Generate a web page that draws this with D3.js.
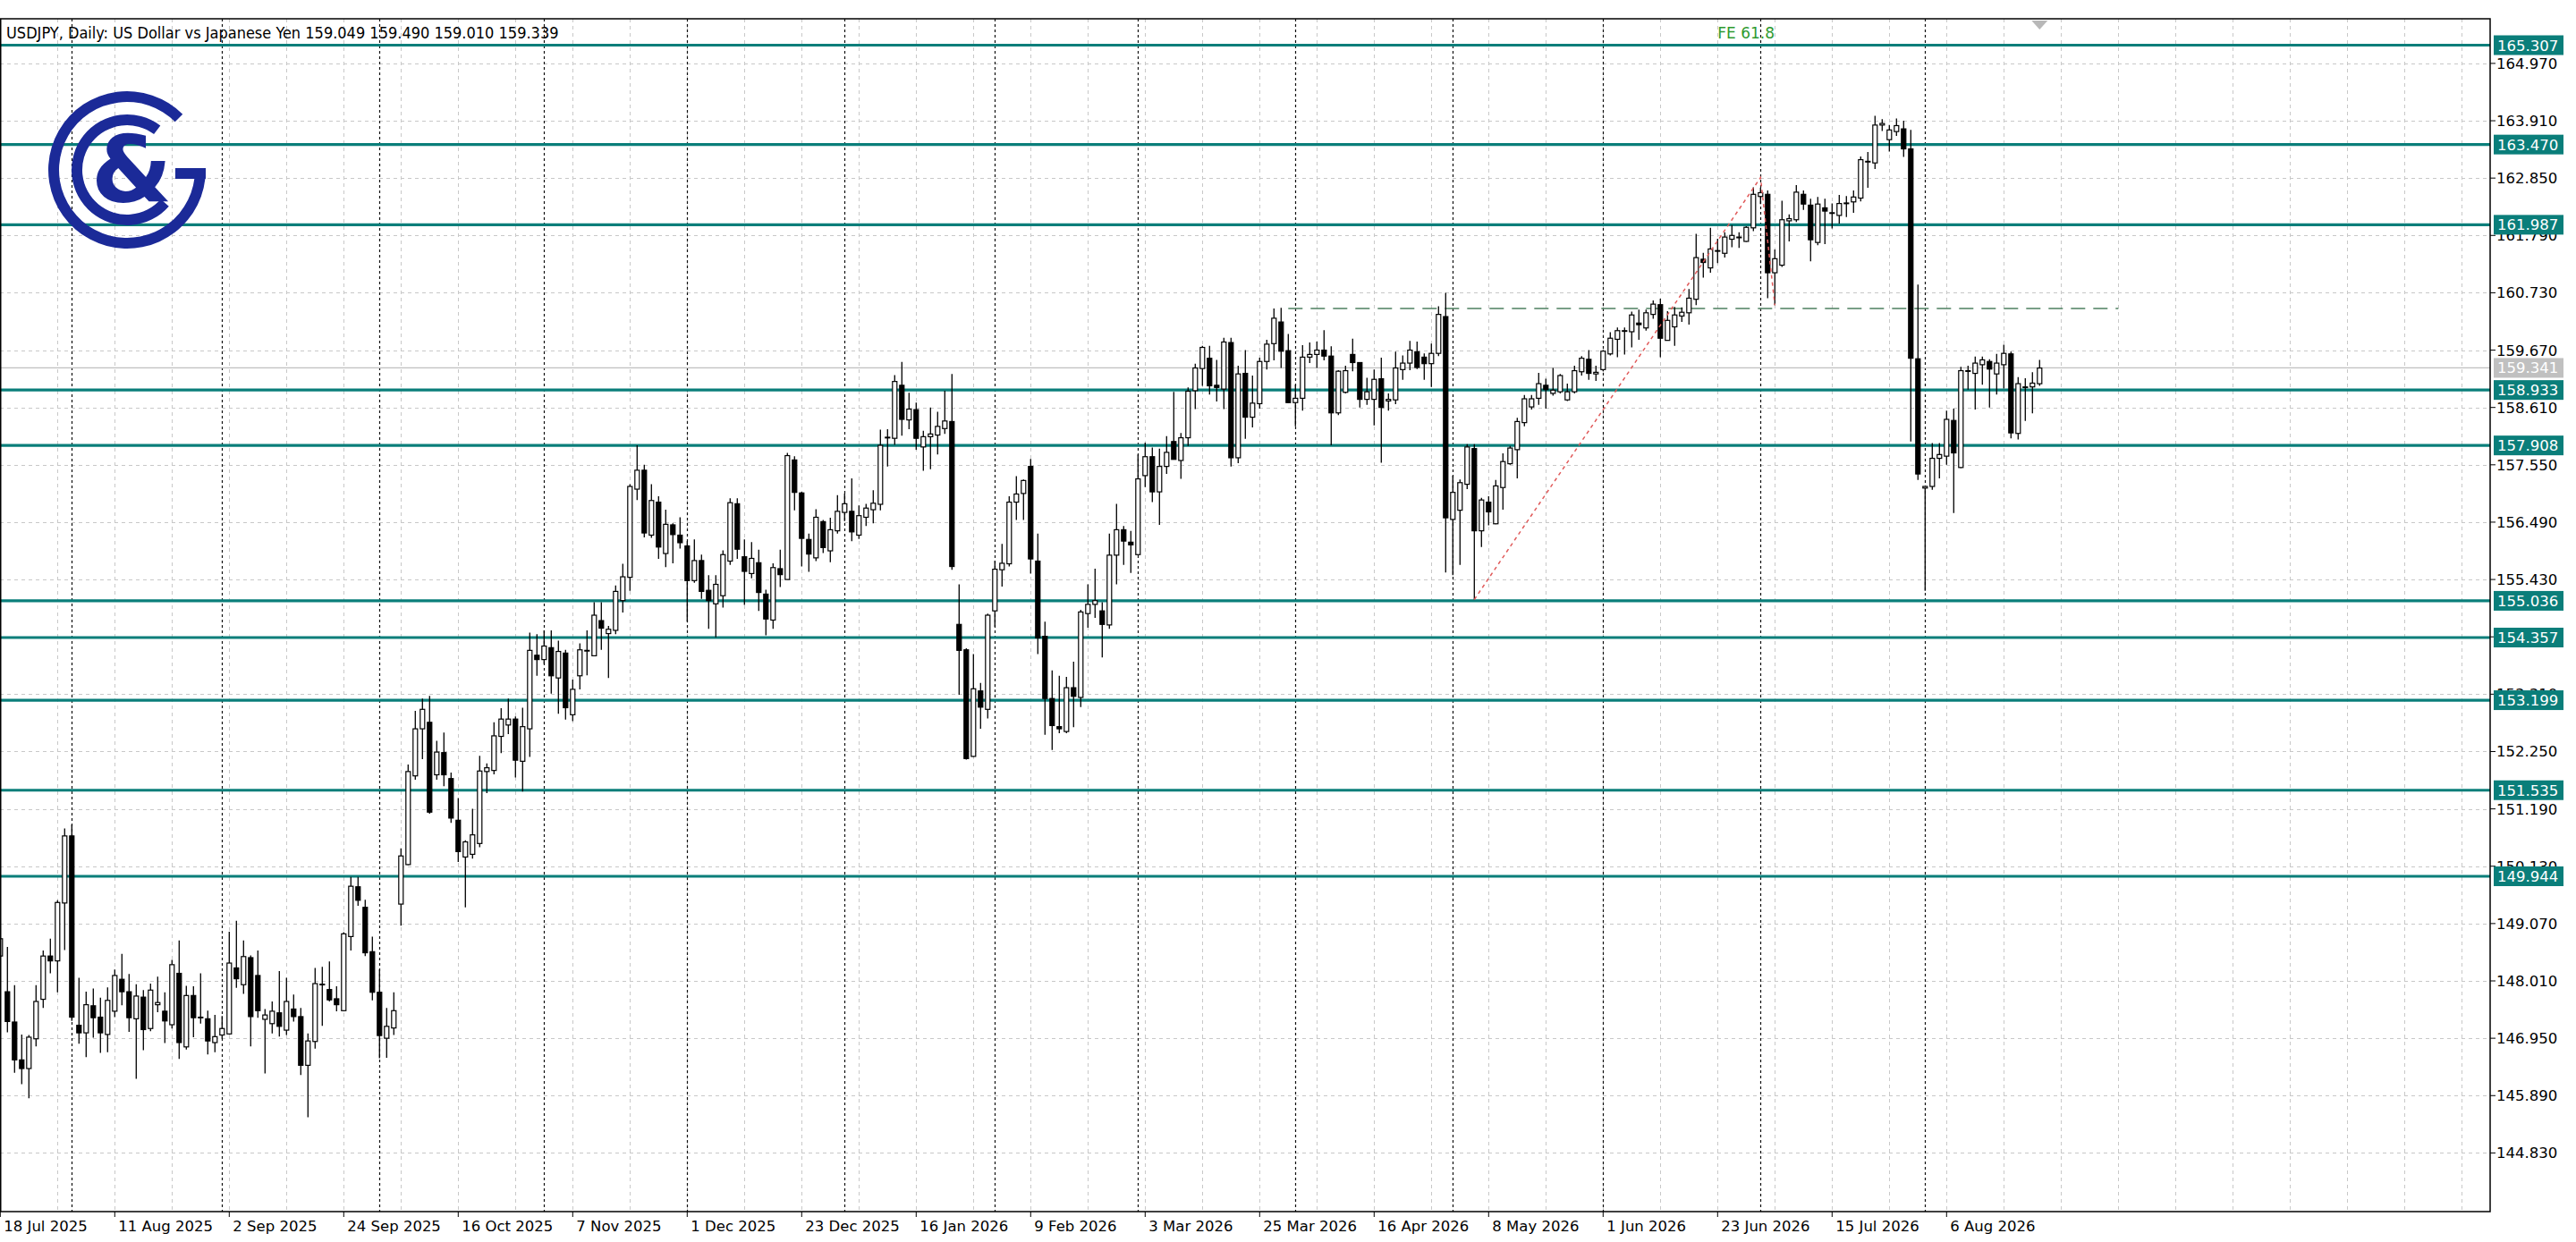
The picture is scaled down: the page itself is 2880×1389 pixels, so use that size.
<!DOCTYPE html>
<html>
<head>
<meta charset="utf-8">
<script src="https://cdn.jsdelivr.net/npm/d3@7"></script>
<style>
  html, body { margin: 0; padding: 0; background: #fff; }
  svg { display: block; font-family: "DejaVu Sans", sans-serif; }
</style>
</head>
<body>
<script>
// daily USDJPY bars, oldest first (18 Jul 2025 onwards)
const opens = [
  148.47,147.81,147.25,146.55,146.39,146.94,147.67,148.47,148.38,149.45,150.69,147.19,147.05,147.55,147.34,147.02,147.45,148.04,147.81,147.31,
  147.71,147.13,147.57,147.45,147.20,148.15,146.79,147.74,147.34,147.31,146.87,147.01,147.03,148.25,147.94,148.44,148.11,147.30,147.22,147.42,
  147.10,147.49,147.35,146.45,146.89,147.95,147.85,147.68,147.46,148.83,149.75,149.37,148.55,147.80,146.95,147.14,149.43,150.16,151.80,152.67,
  152.79,151.82,152.23,151.75,150.98,150.30,150.35,150.55,151.88,151.90,152.53,152.74,152.85,152.07,152.67,154.03,153.95,154.17,153.61,154.07,
  152.93,153.65,154.12,154.02,154.67,154.43,154.49,155.04,155.47,157.10,157.45,156.25,156.86,155.91,156.44,156.25,156.05,155.41,155.78,155.23,
  154.98,155.13,155.77,156.83,155.85,155.54,155.74,155.16,154.68,155.63,155.43,157.64,157.03,156.17,155.83,156.50,155.96,156.33,156.67,156.69,
  156.25,156.58,156.72,156.82,158.06,158.04,159.02,158.38,158.57,157.88,158.07,158.10,158.22,158.35,154.60,154.13,152.16,153.37,153.03,154.85,
  155.61,155.72,156.86,157.02,157.52,155.77,154.38,153.23,152.71,152.62,153.43,153.25,154.80,154.97,154.85,154.59,155.88,156.35,156.12,155.89,
  157.35,157.70,157.05,157.52,157.98,157.63,158.05,158.92,159.33,159.52,159.02,158.95,159.81,157.68,159.24,158.43,158.68,159.46,159.79,160.19,
  159.66,158.70,158.78,159.54,159.59,159.67,159.56,158.51,158.89,159.59,159.44,158.76,158.76,159.14,158.73,158.75,159.31,159.43,159.64,159.54,
  159.42,159.61,160.29,156.54,156.71,157.19,157.85,156.33,156.86,156.46,157.13,157.57,157.83,158.33,158.62,158.78,159.02,158.87,158.90,158.75,
  158.90,159.27,159.50,159.23,159.31,159.60,159.87,160.03,160.01,160.17,160.08,160.33,160.51,159.85,160.10,160.30,160.36,160.61,161.35,161.19,
  161.51,161.46,161.72,161.76,161.68,161.93,162.51,162.55,161.10,161.24,162.06,162.08,162.55,162.35,161.66,162.30,162.21,162.16,162.39,162.41,
  162.48,163.16,163.13,163.83,163.56,163.71,163.76,163.39,159.51,157.12,157.15,157.67,157.71,158.37,157.50,159.29,159.24,159.40,159.46,159.23,
  159.40,159.60,158.13,158.99,158.99,159.049
];
const highs = [
  148.85,148.64,147.93,147.02,147.01,147.93,148.57,148.79,149.50,150.83,150.90,148.07,147.81,147.87,147.70,147.89,148.22,148.51,148.14,147.95,
  147.84,147.96,148.09,147.80,148.40,148.76,147.92,147.91,148.15,147.46,147.38,147.36,148.92,149.12,148.76,148.48,148.57,147.49,147.63,148.19,
  148.07,147.76,147.51,147.04,148.25,148.27,148.37,147.91,148.91,149.93,149.93,149.51,148.83,148.22,147.51,147.80,150.46,152.01,153.00,153.23,
  153.28,152.45,152.60,151.86,151.39,150.61,151.19,152.17,152.03,152.79,153.05,153.23,152.90,153.06,154.45,154.42,154.49,154.49,154.30,154.13,
  153.58,154.25,154.49,155.01,155.01,154.57,155.32,155.72,157.19,157.91,157.55,157.19,156.97,156.72,156.47,156.58,156.14,156.17,155.89,155.51,
  155.51,155.97,156.93,156.93,156.17,156.12,155.98,155.24,155.73,155.98,157.77,157.71,157.05,156.28,156.73,156.53,156.57,156.99,157.02,157.30,
  156.80,156.83,157.08,158.20,158.21,159.21,159.45,158.88,158.70,158.18,158.61,158.53,158.92,159.23,155.34,154.16,154.05,153.52,154.80,155.78,
  156.09,156.97,157.34,157.28,157.66,156.28,154.65,153.75,153.65,153.63,153.91,154.87,155.34,155.63,155.01,156.28,156.83,156.42,156.33,157.74,
  157.96,157.87,157.85,158.08,158.90,158.14,158.98,159.42,159.75,159.75,159.49,159.90,159.90,159.38,159.67,159.20,159.53,159.86,160.44,160.45,
  159.97,159.03,159.76,159.81,159.83,160.04,159.74,159.30,159.38,159.88,159.44,159.16,159.31,159.53,158.87,159.64,159.57,159.84,159.83,159.61,
  159.79,160.48,160.73,157.35,157.28,157.93,157.93,156.94,156.97,157.27,157.76,157.90,158.42,158.84,158.84,159.25,159.14,159.34,159.23,159.05,
  159.38,159.56,159.67,159.38,159.67,160.00,160.09,160.09,160.38,160.42,160.42,160.59,160.62,160.39,160.47,160.46,160.80,161.82,161.47,161.93,
  161.73,161.85,161.98,161.85,161.96,162.68,162.67,162.62,161.53,162.43,162.18,162.72,162.62,162.47,162.50,162.47,162.38,162.54,162.52,162.62,
  163.25,163.33,164.00,163.94,163.83,163.95,163.91,163.74,160.88,157.15,157.95,157.95,158.55,158.59,159.36,159.38,159.55,159.55,159.50,159.60,
  159.77,159.64,159.17,159.15,159.26,159.49
];
const lows = [
  148.40,147.06,146.31,146.10,145.84,146.80,147.51,148.15,147.80,148.58,147.27,146.85,146.60,146.96,146.68,146.69,147.34,147.56,147.07,146.20,
  146.73,147.08,147.43,146.86,147.13,146.57,146.74,146.97,147.22,146.65,146.69,146.94,147.02,147.88,147.77,146.80,147.33,146.30,147.04,146.98,
  147.01,147.26,146.27,145.49,146.76,147.18,147.63,147.45,147.45,148.57,149.40,148.47,147.65,146.58,146.59,147.01,149.03,150.15,151.73,152.11,
  151.10,151.73,151.61,150.93,150.21,149.37,150.27,150.48,151.48,151.83,152.22,152.57,151.77,151.51,152.15,153.65,153.87,153.32,152.95,152.84,
  152.81,153.40,153.66,154.02,154.13,153.61,154.42,154.82,155.22,156.90,156.21,156.20,155.81,155.66,155.73,156.00,154.65,155.37,155.07,154.52,
  154.36,154.91,155.70,155.81,154.96,155.45,154.85,154.40,154.52,155.29,155.43,156.71,155.67,155.57,155.77,155.92,155.75,156.28,156.51,156.14,
  156.18,156.42,156.47,156.71,157.52,157.92,158.09,158.21,157.83,157.44,157.47,157.74,158.12,155.61,153.30,152.10,152.15,152.67,152.86,154.55,
  155.30,155.67,156.53,156.53,155.54,154.05,152.56,152.28,152.59,152.59,152.70,153.07,154.54,154.72,153.99,154.52,155.34,155.70,155.55,155.88,
  157.14,156.86,156.44,157.38,157.65,157.29,157.90,158.58,159.01,158.85,158.72,158.58,157.52,157.58,158.03,158.24,158.59,159.31,159.48,159.34,
  158.69,158.26,158.55,159.43,159.34,159.48,157.91,158.47,158.87,159.28,158.61,158.66,158.28,157.59,158.55,158.67,159.12,159.30,159.32,159.12,
  158.99,159.56,155.56,155.51,155.70,157.10,155.06,156.03,156.43,156.45,156.72,157.55,157.30,158.26,158.57,158.66,158.59,158.83,158.87,158.73,
  158.87,159.20,159.12,159.10,159.28,159.57,159.54,159.59,159.72,159.86,160.03,160.25,159.54,159.85,159.75,160.19,160.14,160.50,161.01,161.10,
  161.28,161.38,161.57,161.56,161.67,161.87,162.37,160.63,160.50,161.21,161.68,162.04,162.26,161.31,161.61,161.63,161.92,162.01,162.13,162.21,
  162.42,162.67,163.02,163.72,163.34,163.63,163.24,157.98,157.27,155.22,157.09,157.30,157.55,156.66,157.49,158.94,158.57,159.03,158.61,158.85,
  158.96,158.04,158.02,158.36,158.50,159.01
];
const closes = [
  148.79,147.26,146.55,146.39,146.97,147.63,148.47,148.38,149.46,150.69,147.34,147.05,147.57,147.33,147.05,147.65,148.11,147.81,147.33,147.73,
  147.11,147.84,147.61,147.27,148.31,146.87,147.74,147.33,147.34,146.90,146.98,147.13,148.34,148.05,148.46,147.35,147.46,147.38,147.45,147.17,
  147.63,147.35,146.45,146.90,147.96,147.95,147.66,147.57,148.88,149.76,149.50,148.53,147.80,147.00,147.17,147.46,150.32,151.88,152.67,153.03,
  151.13,152.24,151.82,151.02,150.40,150.58,150.71,151.89,151.95,152.54,152.85,152.85,152.09,152.71,154.12,153.95,154.20,153.65,154.10,153.06,
  153.40,154.13,154.12,154.77,154.53,154.51,155.21,155.48,157.15,157.45,156.29,156.89,156.03,156.45,156.26,156.11,155.41,155.78,155.21,155.04,
  155.34,155.89,156.85,155.99,155.58,155.82,155.19,154.70,155.65,155.52,157.72,157.04,156.19,155.90,156.58,156.02,156.35,156.69,156.83,156.31,
  156.61,156.75,156.84,157.91,158.06,159.09,158.39,158.58,158.04,158.07,158.12,158.26,158.36,155.67,154.12,152.12,153.41,153.07,154.77,155.62,
  155.73,156.86,157.01,157.26,155.81,154.35,153.23,152.73,152.67,153.43,153.27,154.83,154.97,155.04,154.60,155.88,156.35,156.14,156.07,157.29,
  157.70,157.05,157.52,157.78,157.65,158.05,158.91,159.34,159.72,159.01,158.98,159.82,157.68,159.23,158.43,158.69,159.46,159.78,160.26,159.65,
  158.70,158.78,159.54,159.59,159.67,159.56,158.51,159.28,159.29,159.44,158.76,158.90,159.13,158.61,158.76,159.34,159.43,159.67,159.35,159.42,
  159.61,160.33,156.57,157.04,157.22,157.88,156.33,156.90,156.68,157.16,157.61,157.86,158.35,158.77,158.77,159.05,158.94,158.93,159.20,158.90,
  159.29,159.52,159.24,159.26,159.65,159.89,160.03,160.03,160.32,160.14,160.36,160.52,159.89,160.22,160.32,160.37,160.63,161.38,161.29,161.54,
  161.51,161.76,161.79,161.76,161.94,162.55,162.58,161.10,161.36,162.08,162.10,162.59,162.37,161.71,162.37,162.24,162.21,162.38,162.39,162.50,
  163.19,163.16,163.83,163.86,163.74,163.82,163.39,159.52,157.38,157.15,157.67,157.74,158.39,157.77,159.29,159.29,159.43,159.49,159.32,159.43,
  159.61,158.14,159.05,158.99,159.06,159.339
];

// holidays with no bar in the feed
const skipDays = ["2025-12-25", "2026-01-01"];

const priceTicks = [164.970,163.910,162.850,161.790,160.730,159.670,158.610,157.550,156.490,155.430,
  154.370,153.310,152.250,151.190,150.130,149.070,148.010,146.950,145.890,144.830];
const levels = [165.307,163.470,161.987,158.933,157.908,155.036,154.357,153.199,151.535,149.944];
const lastPrice = 159.341;
const feLevel = 160.44;              // dashed expansion base line
const fePoints = [[206,155.06],[246,162.86],[248,160.50]];  // bar index, price
const feLabel = "FE 61.8";
const title = "USDJPY, Daily:  US Dollar vs Japanese Yen  159.049 159.490 159.010 159.339";

const W = 2880, H = 1389;
const pLeft = 0, pRight = 2784, pTop = 21, pBottom = 1355;
const teal = "#0a7e7a", blue = "#1b2a98";

// build trading dates
const dates = [];
let day = new Date(Date.UTC(2025, 6, 18));
while (dates.length < opens.length) {
  const iso = day.toISOString().slice(0, 10);
  const wd = day.getUTCDay();
  if (wd !== 0 && wd !== 6 && !skipDays.includes(iso)) dates.push(new Date(day));
  day = new Date(day.getTime() + 86400000);
}
const bars = opens.map((o, i) => ({i, o, h: highs[i], l: lows[i], c: closes[i], date: dates[i]}));

const x = d3.scaleLinear().domain([0, 100]).range([0.3, 800.3]);
const y = d3.scaleLinear().domain([144.83, 164.97]).range([1289.4, 70.9]);

const svg = d3.select("body").append("svg").attr("width", W).attr("height", H);

svg.append("defs").append("clipPath").attr("id", "plot")
  .append("rect").attr("x", pLeft).attr("y", pTop).attr("width", pRight - pLeft).attr("height", pBottom - pTop);

const plot = svg.append("g").attr("clip-path", "url(#plot)");

// light grid
plot.selectAll(".hgrid").data(priceTicks).enter().append("line")
  .attr("x1", pLeft).attr("x2", pRight).attr("y1", (p) => Math.round(y(p)) + 0.5).attr("y2", (p) => Math.round(y(p)) + 0.5)
  .attr("stroke", "#c8c8c8").attr("stroke-dasharray", "4,4");
const vgrid = d3.range(8, 360, 8);
plot.selectAll(".vgrid").data(vgrid).enter().append("line")
  .attr("x1", (i) => Math.round(x(i)) + 0.5).attr("x2", (i) => Math.round(x(i)) + 0.5)
  .attr("y1", pTop).attr("y2", pBottom)
  .attr("stroke", "#c8c8c8").attr("stroke-dasharray", "4,4");

// month separators
const monthStarts = bars.filter((b, k) => k > 0 && b.date.getUTCMonth() !== bars[k - 1].date.getUTCMonth()).map((b) => b.i);
plot.selectAll(".sep").data(monthStarts).enter().append("line")
  .attr("x1", (i) => Math.round(x(i)) + 0.5).attr("x2", (i) => Math.round(x(i)) + 0.5)
  .attr("y1", pTop).attr("y2", pBottom)
  .attr("stroke", "#111").attr("stroke-width", 1.2).attr("stroke-dasharray", "3,3");

// current price line
plot.append("line").attr("x1", pLeft).attr("x2", pRight)
  .attr("y1", y(lastPrice)).attr("y2", y(lastPrice)).attr("stroke", "#c0c0c0").attr("stroke-width", 1.2);

// horizontal levels
plot.selectAll(".lvl").data(levels).enter().append("line")
  .attr("x1", pLeft).attr("x2", pRight).attr("y1", (p) => y(p)).attr("y2", (p) => y(p))
  .attr("stroke", teal).attr("stroke-width", 3.2);

// expansion base line
plot.append("line").attr("x1", x(180)).attr("x2", x(296))
  .attr("y1", y(feLevel)).attr("y2", y(feLevel))
  .attr("stroke", "#4e8060").attr("stroke-width", 1.6).attr("stroke-dasharray", "16,9");

// candles
const bw = 5;
const candles = plot.selectAll(".bar").data(bars).enter().append("g");
candles.append("line")
  .attr("x1", (b) => x(b.i)).attr("x2", (b) => x(b.i))
  .attr("y1", (b) => y(b.h)).attr("y2", (b) => y(b.l))
  .attr("stroke", "#000").attr("stroke-width", 1.3);
candles.append("rect")
  .attr("x", (b) => x(b.i) - bw / 2)
  .attr("y", (b) => y(Math.max(b.o, b.c)))
  .attr("width", bw)
  .attr("height", (b) => Math.max(0.8, Math.abs(y(b.o) - y(b.c))))
  .attr("fill", (b) => (b.c < b.o ? "#000" : "#fff"))
  .attr("stroke", "#000").attr("stroke-width", 1.2);

// expansion lines
plot.append("path")
  .attr("d", d3.line().x((p) => x(p[0])).y((p) => y(p[1]))(fePoints))
  .attr("fill", "none").attr("stroke", "#e05a5a").attr("stroke-width", 1.5).attr("stroke-dasharray", "4,4");
plot.append("text").attr("x", x(240)).attr("y", y(levels[0]) - 8)
  .attr("font-size", 17).attr("fill", "#2f9a2f").text(feLabel);

// shift marker
plot.append("path").attr("d", `M${x(285) - 9},${pTop + 2}L${x(285) + 9},${pTop + 2}L${x(285)},${pTop + 12}Z`)
  .attr("fill", "#b8b8b8");

// logo
const logo = svg.append("g").attr("transform", "translate(142,190)").attr("fill", blue);
const deg = Math.PI / 180;
logo.append("path").attr("d", d3.arc().innerRadius(76).outerRadius(88).startAngle(90 * deg).endAngle(405 * deg)());
logo.append("rect").attr("x", 54).attr("y", -2).attr("width", 34).attr("height", 12);
logo.append("path").attr("d", d3.arc().innerRadius(50).outerRadius(62).startAngle(131 * deg).endAngle(397 * deg)());
logo.append("text").attr("x", 5).attr("y", 36).attr("text-anchor", "middle")
  .attr("font-size", 104).attr("font-weight", "bold").text("&");

// frame
svg.append("rect").attr("x", pLeft + 0.75).attr("y", pTop).attr("width", pRight - pLeft - 0.75).attr("height", pBottom - pTop)
  .attr("fill", "none").attr("stroke", "#000").attr("stroke-width", 1.5);

// title
svg.append("text").attr("x", 7).attr("y", 43).attr("font-size", 18)
  .attr("font-family", "'DejaVu Sans Condensed', 'DejaVu Sans'").attr("font-stretch", "condensed")
  .attr("fill", "#000").text(title);

// price axis
const axisY = svg.append("g");
axisY.selectAll("line").data(priceTicks).enter().append("line")
  .attr("x1", pRight).attr("x2", pRight + 6).attr("y1", (p) => y(p)).attr("y2", (p) => y(p)).attr("stroke", "#000");
axisY.selectAll("text").data(priceTicks).enter().append("text")
  .attr("x", pRight + 7).attr("y", (p) => y(p) + 6).attr("font-size", 16.5).attr("fill", "#000")
  .text((p) => p.toFixed(3));

const tags = svg.append("g");
function tag(p, bg, fg) {
  tags.append("rect").attr("x", pRight + 4).attr("y", y(p) - 11).attr("width", 78).attr("height", 22).attr("fill", bg);
  tags.append("text").attr("x", pRight + 8).attr("y", y(p) + 6).attr("font-size", 16.5).attr("fill", fg).text(p.toFixed(3));
}
tag(lastPrice, "#c0c0c0", "#fff");
levels.forEach((p) => tag(p, teal, "#fff"));

// date axis
const fmt = d3.utcFormat("%-d %b %Y");
const dateTicks = bars.filter((b) => b.i % 16 === 0);
svg.selectAll(".dt").data(dateTicks).enter().append("line")
  .attr("x1", (b) => x(b.i)).attr("x2", (b) => x(b.i)).attr("y1", pBottom).attr("y2", pBottom + 6).attr("stroke", "#000");
svg.selectAll(".dl").data(dateTicks).enter().append("text")
  .attr("x", (b) => x(b.i) + 4).attr("y", pBottom + 22).attr("font-size", 16.5).attr("fill", "#000")
  .text((b) => fmt(b.date));
</script>
</body>
</html>
